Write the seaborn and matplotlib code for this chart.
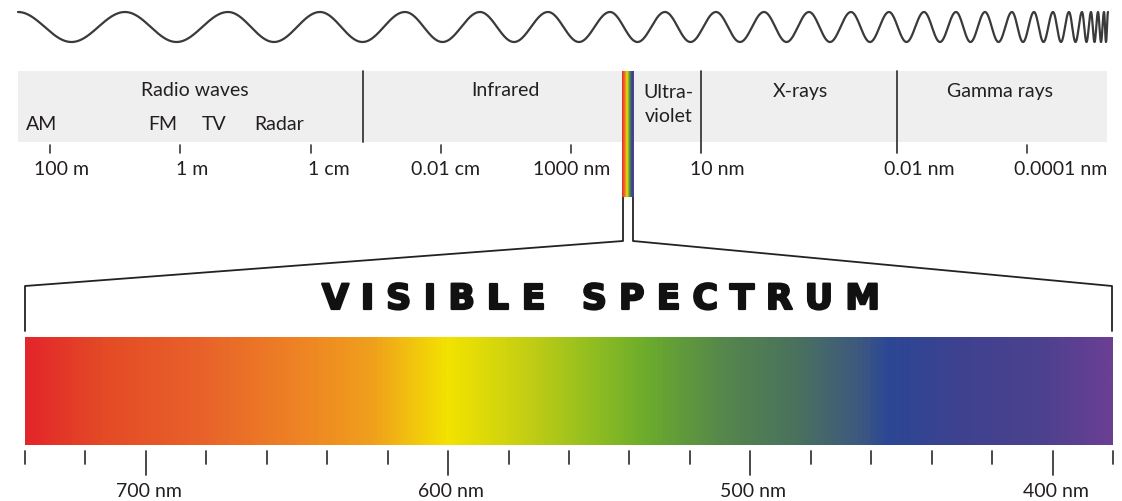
import numpy as np
import matplotlib
matplotlib.use("Agg")
import matplotlib.pyplot as plt
import matplotlib.transforms as mtransforms
import matplotlib.patheffects as pe
from matplotlib.colors import LinearSegmentedColormap
import seaborn as sns

sns.set_theme(style="white")
plt.rcParams['font.family'] = ['Lato', 'DejaVu Sans']

# ---------------- data ----------------
# top band: electromagnetic spectrum (wavelength in metres, log scale)
region_names = ["Radio waves", "Infrared", "Ultra-\nviolet", "X-rays", "Gamma rays"]
region_label_wl = [0.6, 1e-5, 3.2e-8, 3e-10, 2.6e-13]
region_bounds_wl = [1.56e-3, 1e-8, 1e-11]          # separators
bound_extends = [False, True, True]

band_names = ["AM", "FM", "TV", "Radar"]
band_wl = [133.0, 1.84, 0.30, 0.030]

scale_tick_wl = [1e2, 1e0, 1e-2, 1e-4, 1e-6, 1e-8, 1e-11, 1e-13]
scale_tick_lbl = ["100 m", "1 m", "1 cm", "0.01 cm", "1000 nm", "10 nm", "0.01 nm", "0.0001 nm"]
scale_tick_mark = [True, True, True, True, True, False, False, True]
scale_lbl_dx = [11, 12, 18, 5, 1, 16, 23, 34]      # label offsets (px)

# visible spectrum (nm)
vis_ticks = [740, 720, 700, 680, 660, 640, 620, 600, 580, 560, 540, 520, 500,
             480, 460, 440, 420, 400, 380]
vis_major = [700, 600, 500, 400]
vis_stop_nm = [740, 715, 682, 649, 625, 612, 600, 576, 550, 533, 510, 483, 463,
               454, 430, 404, 380]
vis_stop_col = ["#e3262a", "#e44a26", "#e8622a", "#ee8424", "#f0a01c", "#f2c40e",
                "#f2e300", "#c8d012", "#8cbc22", "#6aaa2e", "#56884a", "#497060",
                "#3d5880", "#2c4794", "#3e4290", "#4c418e", "#6a3f94"]

title = "VISIBLE SPECTRUM"

# decorative wave: crest x-positions (px)
wave_crest_x = [18, 125, 228, 320, 405, 480, 548, 610, 665, 716, 764, 809, 851,
                889, 924, 956, 985, 1012, 1034, 1053, 1069, 1082, 1091, 1098, 1104, 1108]

# ---------------- layout ----------------
W, H = 1122, 502
TXT = "#231f20"
LINE = "#3a3a3a"
FS = 14

def rect(x0, y0, x1, y1):
    return [x0 / W, 1 - y1 / H, (x1 - x0) / W, (y1 - y0) / H]

fig = plt.figure(figsize=(W / 100, H / 100), dpi=100)
fig.patch.set_facecolor("white")

# top band axes (log wavelength)
BAND = (18, 72, 1107, 143)
ax_top = fig.add_axes(rect(*BAND))
ax_top.set_xscale("log")
ax_top.set_xlim(310, 5.9e-15)
ax_top.set_ylim(0, 1)
ax_top.set_facecolor("#efefef")
for s in ax_top.spines.values():
    s.set_visible(False)
ax_top.set_xticks([]); ax_top.set_yticks([])
ax_top.set_xticks([], minor=True)
ax_top.tick_params(which="both", length=0)
bt = mtransforms.blended_transform_factory(ax_top.transData, ax_top.transAxes)
band_h = BAND[3] - BAND[1]

def by(py):  # pixel row -> band axes fraction
    return (BAND[3] - py) / band_h

for wl, ext in zip(region_bounds_wl, bound_extends):
    ax_top.plot([wl, wl], [1.0, by(154) if ext else 0.0], transform=bt,
                color=LINE, lw=1.3, clip_on=False)

for name, wl in zip(region_names, region_label_wl):
    ax_top.text(wl, by(91) if "\n" not in name else by(105), name, transform=bt,
                ha="center", va="center", fontsize=FS, color=TXT, linespacing=1.5)

for name, wl in zip(band_names, band_wl):
    ax_top.text(wl, by(125), name, transform=bt, ha="center", va="center",
                fontsize=FS, color=TXT)

for wl, lbl, mark, dx in zip(scale_tick_wl, scale_tick_lbl, scale_tick_mark, scale_lbl_dx):
    if mark:
        ax_top.plot([wl, wl], [by(146), by(154)], transform=bt, color=LINE,
                    lw=1.2, clip_on=False)
    ax_top.annotate(lbl, xy=(wl, by(170)), xycoords=bt, xytext=(dx, 0),
                    textcoords="offset pixels", ha="center", va="center",
                    fontsize=FS, color=TXT, annotation_clip=False)

# visible spectrum bar
BAR = (25, 338, 1113, 446)
ax_bar = fig.add_axes(rect(*BAR))
lo, hi = min(vis_stop_nm), max(vis_stop_nm)
stops = sorted(((hi - nm) / (hi - lo), c) for nm, c in zip(vis_stop_nm, vis_stop_col))
cmap = LinearSegmentedColormap.from_list("vis", stops)
nm_grid = np.linspace(hi, lo, 1200)[None, :]
ax_bar.imshow((hi - nm_grid) / (hi - lo), cmap=cmap, vmin=0, vmax=1, aspect="auto",
              extent=(hi, lo, 0, 1), interpolation="bilinear")
ax_bar.set_xlim(hi, lo)
ax_bar.set_ylim(0, 1)
for s in ax_bar.spines.values():
    s.set_visible(False)
ax_bar.set_xticks([]); ax_bar.set_yticks([])
bb = mtransforms.blended_transform_factory(ax_bar.transData, ax_bar.transAxes)
bar_h = BAR[3] - BAR[1]

def vy(py):
    return (BAR[3] - py) / bar_h

for t in vis_ticks:
    end = 476 if t in vis_major else 465
    ax_bar.plot([t, t], [vy(452), vy(end)], transform=bb, color=LINE, lw=1.3,
                clip_on=False)
for t in vis_major:
    ax_bar.annotate(f"{t} nm", xy=(t, vy(492)), xycoords=bb, xytext=(3, 0),
                    textcoords="offset pixels", ha="center", va="center",
                    fontsize=FS, color=TXT, annotation_clip=False)

# overlay: wave, visible-light strip, connectors, title
ov = fig.add_axes([0, 0, 1, 1], zorder=5)
ov.set_xlim(0, W); ov.set_ylim(H, 0)
ov.axis("off")
ov.patch.set_alpha(0)

xw = np.linspace(wave_crest_x[0], wave_crest_x[-1], 8000)
phase = np.interp(xw, wave_crest_x, 2 * np.pi * np.arange(len(wave_crest_x)))
ov.plot(xw, 28 - 15 * np.cos(phase), color=LINE, lw=1.6, solid_capstyle="round")

SX0, SX1, SY0, SY1 = 622, 634, 72, 198
ov.imshow((hi - nm_grid) / (hi - lo), cmap=cmap, vmin=0, vmax=1, aspect="auto",
          extent=(SX0, SX1, SY1, SY0), interpolation="bilinear", zorder=3)
ov.plot([623, 623, BAR[0], BAR[0]], [SY1, 242, 287, 332], color="#222222", lw=1.3)
ov.plot([633, 633, BAR[2] - 1, BAR[2] - 1], [SY1, 242, 287, 332], color="#222222", lw=1.3)
ov.set_xlim(0, W); ov.set_ylim(H, 0)

# letter-spaced heavy title, laid out across its span
TX0, TX1, TY = 322, 880, 300
renderer = fig.canvas.get_renderer()
heavy = [pe.withStroke(linewidth=1.6, foreground="#111111")]
letters = []
for ch in title:
    t = ov.text(0, TY, ch if ch != " " else "", ha="left", va="center",
                fontsize=25, fontweight="bold", color="#111111",
                family=["DejaVu Sans"], path_effects=heavy)
    w = t.get_window_extent(renderer).width if ch != " " else 0.0
    letters.append((t, ch, w))
word_gap_units = 3.0
total_w = sum(w for _, _, w in letters)
units = sum(word_gap_units / 2 if (ch == " " or nxt == " ") else 1.0
            for (_, ch, _), (_, nxt, _) in zip(letters[:-1], letters[1:]))
gap = (TX1 - TX0 - total_w) / units
x = TX0
for i, (t, ch, w) in enumerate(letters):
    t.set_x(x)
    x += w
    if i < len(letters) - 1:
        nxt = letters[i + 1][1]
        x += gap * (word_gap_units / 2 if (ch == " " or nxt == " ") else 1.0)

fig.savefig("out.png", dpi=100, facecolor="white")
